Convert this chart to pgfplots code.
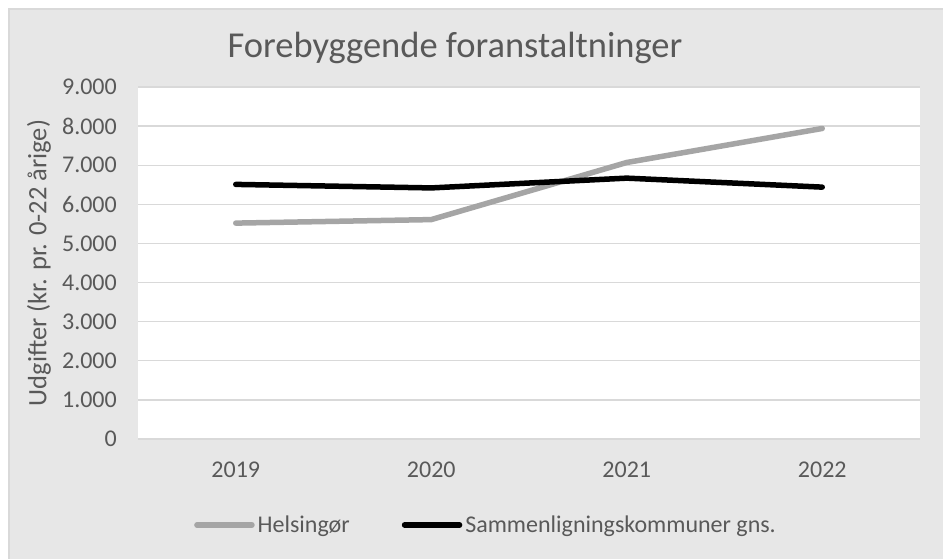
\documentclass[border=0pt]{standalone}
\usepackage{pgfplots}
\pgfplotsset{compat=1.18}
\usepackage{fontspec}
\setmainfont{Carlito}
\definecolor{txt}{HTML}{595959}
\definecolor{gridc}{HTML}{D9D9D9}
\definecolor{chartbg}{HTML}{E7E7E7}
\definecolor{helsgrey}{HTML}{A5A5A5}
\begin{document}
\begin{tikzpicture}[x=1pt,y=1pt]
\useasboundingbox (0,0) rectangle (943,558);
\fill[white] (0,0) rectangle (943,558);
\filldraw[fill=chartbg, draw=gridc, line width=1.5pt] (9,-5) rectangle (950,549);
\begin{axis}[
  at={(138pt,119pt)}, anchor=south west,
  scale only axis, width=782pt, height=352pt,
  xmin=-0.5, xmax=3.5, ymin=0, ymax=9000,
  xtick={0,1,2,3}, xticklabels={2019,2020,2021,2022},
  ytick={0,1000,...,9000},
  scaled y ticks=false,
  axis line style={draw=none},
  major tick length=0pt,
  ymajorgrids, grid style={gridc, line width=1.3pt},
  axis background/.style={fill=white},
  tick label style={font=\fontsize{24}{28}\selectfont, text=txt},
  yticklabel style={anchor=east, inner sep=0pt, xshift=-21pt},
  xticklabel style={anchor=center, inner sep=0pt, yshift=-31pt},
  legend columns=2,
  legend style={at={(0.4457,-0.2443)}, anchor=center, draw=none, fill=none,
    font=\fontsize{24}{28}\selectfont, text=txt,
    nodes={inner xsep=3pt},
    /tikz/every even column/.append style={column sep=49pt}},
  legend image code/.code={\draw[#1] (0pt,0pt) -- (55pt,0pt);},
  every axis plot/.append style={line width=5.5pt, line cap=round, line join=round},
  /pgf/number format/1000 sep={.},
  /pgf/number format/assume math mode=true,
]
\addplot[helsgrey, no marks] coordinates {(0,5520) (1,5610) (2,7070) (3,7940)};
\addlegendentry{Helsingør}
\addplot[black, no marks] coordinates {(0,6510) (1,6420) (2,6670) (3,6440)};
\addlegendentry{Sammenligningskommuner gns.}
\end{axis}
\node[anchor=base, font=\fontsize{36.5}{40}\selectfont, text=txt, inner sep=0pt] at (455,500) {Forebyggende foranstaltninger};
\node[rotate=90, font=\fontsize{26.5}{30}\selectfont, text=txt, inner sep=0pt] at (39,295) {Udgifter (kr. pr. 0-22 årige)};
\end{tikzpicture}
\end{document}
